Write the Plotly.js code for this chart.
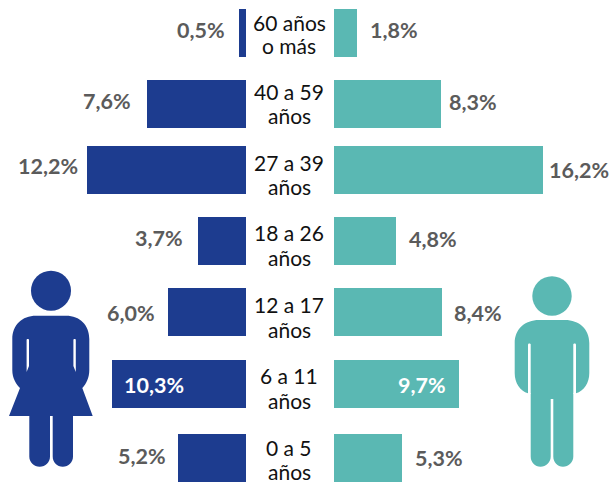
<!DOCTYPE html>
<html>
<head>
<meta charset="utf-8">
<script src="https://cdn.plot.ly/plotly-3.0.1.min.js"></script>
<style>html,body{margin:0;padding:0;background:#fff}</style>
</head>
<body>
<div id="chart" style="width:609px;height:483px"></div>
<script>
var categoriesLine1 = ["60 años","40 a 59","27 a 39","18 a 26","12 a 17","6 a 11","0 a 5"];
var categoriesLine2 = ["o más","años","años","años","años","años","años"];
var mujeres = [0.5,7.6,12.2,3.7,6.0,10.3,5.2];
var hombres = [1.8,8.3,16.2,4.8,8.4,9.7,5.3];
var rowCenters = [33,104,170,241,312,384,458];

// label placement, in pixels
var line1Y = [22,91,162,232,304,375,447];
var line2Y = [45,115,186,257,329,400,471];
var leftLabelY  = [30,101,166,238,313,385,456];
var rightLabelY = [30,102,170,239,313,385,458];
var leftLabelEnd = [225,131,78,183,155,184,166];
var rightLabelStart = [370,449,549,409,454,397,415];

var NAVY="#1d3c8f", TEAL="#5ab8b3", GRAY="#5b5b5b";
var FONT="Lato, sans-serif";
function fmt(v){return v.toFixed(1).replace(".",",")+"%";}
function px(x){return x/609;}

var traces=[
 {type:"bar",orientation:"h",x:mujeres,y:rowCenters,width:48,xaxis:"x",yaxis:"y",marker:{color:NAVY,line:{width:0}},hoverinfo:"skip"},
 {type:"bar",orientation:"h",x:hombres,y:rowCenters,width:48,xaxis:"x2",yaxis:"y",marker:{color:TEAL,line:{width:0}},hoverinfo:"skip"}
];

var annotations=[];
function catLabel(t,y){
  annotations.push({xref:"paper",yref:"y",x:px(289),y:y,text:t,showarrow:false,xanchor:"center",yanchor:"middle",borderpad:0,borderwidth:0,
    font:{family:FONT,size:21,color:"#111111"},align:"center"});
}
categoriesLine1.forEach(function(t,i){catLabel(t,line1Y[i]);});
categoriesLine2.forEach(function(t,i){catLabel(t,line2Y[i]);});
function valueLabel(v,x,y,anchor,col){
  annotations.push({xref:"paper",yref:"y",x:px(x),y:y,text:"<b>"+fmt(v)+"</b>",showarrow:false,yanchor:"middle",xanchor:anchor,borderpad:0,borderwidth:0,
    font:{family:FONT,size:21.5,color:col}});
}
mujeres.forEach(function(v,i){valueLabel(v,leftLabelEnd[i],leftLabelY[i],"right",i===5?"#ffffff":GRAY);});
hombres.forEach(function(v,i){
  if(i===5){valueLabel(v,446,rightLabelY[i],"right","#ffffff");}
  else{valueLabel(v,rightLabelStart[i],rightLabelY[i],"left",GRAY);}
});

// pictograms: page-pixel x converted to paper fractions
var womanBody="M12.3,339 C12.3,325 22,315.7 36,315.7 L66,315.7 C80,315.7 89.3,325 89.3,339 L89.3,370 C89.3,378 86,384 82.3,388 L92.7,416 L73,416 L73,456.5 C73,462.5 68.5,466.7 62.8,466.7 C57,466.7 52.7,462.5 52.7,456.5 L52.7,416 L50,416 L50,456.5 C50,462.5 45.5,466.7 39.7,466.7 C34,466.7 29.3,462.5 29.3,456.5 L29.3,416 L9,416 L20,388 C16,384 12.3,378 12.3,370 Z";
var manBody="M514.7,343 C514.7,329 525,320 539,320 L565,320 C579,320 589.3,329 589.3,343 L589.3,373 C589.3,383 584,391 576,393.3 L573.3,393.3 L573.3,456.5 C573.3,462.5 568.5,466.7 563,466.7 C557.5,466.7 553.3,462.5 553.3,456.5 L553.3,399 L550.7,399 L550.7,456.5 C550.7,462.5 546,466.7 540.5,466.7 C535,466.7 530.7,462.5 530.7,456.5 L530.7,393.3 L528,393.3 C520,391 514.7,383 514.7,373 Z";
function conv(p){return p.replace(/(-?[\d.]+),(-?[\d.]+)/g,function(m,x,y){return px(parseFloat(x))+","+y;});}
function shapePath(p,col){return {type:"path",xref:"paper",yref:"y",path:conv(p),fillcolor:col,line:{width:0},layer:"above"};}
function head(cx,cy,r,col){return {type:"circle",xref:"paper",yref:"y",x0:px(cx-r),x1:px(cx+r),y0:cy-r,y1:cy+r,fillcolor:col,line:{width:0},layer:"above"};}
var shapes=[
 shapePath(womanBody,NAVY), head(51,290.7,20,NAVY),
 shapePath("M26.6,340 C26.6,338.7 29,338.7 29,340 L29,366 L26.6,372 Z","#ffffff"),
 shapePath("M73.4,340 C73.4,338.7 75.8,338.7 75.8,340 L75.8,372 L73.4,366 Z","#ffffff"),
 shapePath(manBody,TEAL), head(552,296,19.7,TEAL),
 shapePath("M528,344.5 C528,343 530.7,343 530.7,344.5 L530.7,394 L528,394 Z","#ffffff"),
 shapePath("M573.3,344.5 C573.3,343 576,343 576,344.5 L576,394 L573.3,394 Z","#ffffff")
];

var layout={
  width:609,height:483,margin:{l:0,r:0,t:0,b:0},paper_bgcolor:"#fff",plot_bgcolor:"#fff",showlegend:false,bargap:0,barmode:"overlay",
  xaxis:{domain:[0,246/609],range:[246/13.05,0],visible:false,fixedrange:true},
  xaxis2:{domain:[334/609,1],range:[0,275/12.9],visible:false,fixedrange:true,anchor:"y"},
  yaxis:{domain:[0,1],range:[483,0],visible:false,fixedrange:true},
  annotations:annotations,shapes:shapes
};
Plotly.newPlot("chart",traces,layout,{displayModeBar:false,staticPlot:true});
</script>
</body>
</html>
